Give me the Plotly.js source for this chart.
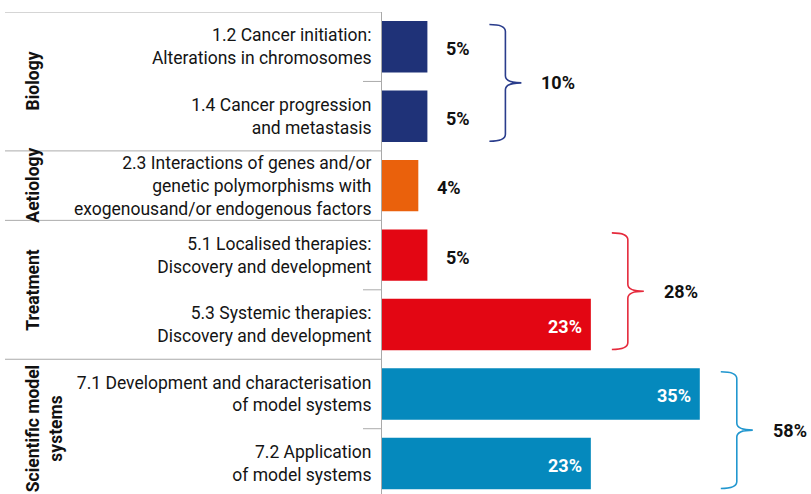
<!DOCTYPE html>
<html><head><meta charset="utf-8">
<script src="https://cdn.plot.ly/plotly-3.0.1.min.js"></script>
<style>html,body{margin:0;padding:0;background:#fff}#chart{width:811px;height:494px}</style>
</head><body><div id="chart"></div>
<script>
// ---- data ----
const groupNames = ['Biology', 'Aetiology', 'Treatment', 'Scientific model<br>systems'];
const groupTotals = ['10%', null, '28%', '58%'];
const itemGroup = [0, 0, 1, 2, 2, 3, 3];
const categories = [
  '1.2 Cancer initiation:<br>Alterations in chromosomes',
  '1.4 Cancer progression<br>and metastasis',
  '2.3 Interactions of genes and/or<br>genetic polymorphisms with<br>exogenousand/or endogenous factors',
  '5.1 Localised therapies:<br>Discovery and development',
  '5.3 Systemic therapies:<br>Discovery and development',
  '7.1 Development and characterisation<br>of model systems',
  '7.2 Application<br>of model systems'
];
const values = [5, 5, 4, 5, 23, 35, 23];
const valueLabels = ['5%', '5%', '4%', '5%', '23%', '35%', '23%'];

// ---- style ----
const groupColors = ['#1f3278', '#ea610c', '#e30613', '#0589bd'];
const braceColors = ['#2a3d8c', null, '#e52a3c', '#2297cf'];
const W = 811, H = 494, ML = 382, MT = 12;
const PX = 9.08;                 // pixels per value unit
const plotW = W - ML;
const xMax = plotW / PX;
const yBottom = 6.44;
const pitch = (H - MT) / (yBottom + 0.5);
const FONT = 'Roboto, "Open Sans", Arial, sans-serif';
const INSIDE_MIN = 15;

const pxX = p => p / PX;                 // px offset -> x units
const paperX = p => (p - ML) / plotW;    // absolute px -> paper x

const barColors = itemGroup.map(g => groupColors[g]);

const trace = {
  type: 'bar', orientation: 'h',
  y: categories, x: values,
  marker: {color: barColors, line: {width: 0}},
  hoverinfo: 'skip', showlegend: false
};

const annotations = [];
const shapes = [];

// value labels
values.forEach((v, i) => {
  const inside = v >= INSIDE_MIN;
  annotations.push({
    x: v, y: i, xref: 'x', yref: 'y',
    text: '<b>' + valueLabels[i] + '</b>', showarrow: false,
    xanchor: inside ? 'right' : 'left', xshift: inside ? -7 : 17, yshift: -2,
    font: {family: FONT, size: 18, color: inside ? '#ffffff' : '#111111'}
  });
});

// groups: labels, dividers, braces
groupNames.forEach((name, g) => {
  const idx = itemGroup.map((gg, i) => gg === g ? i : -1).filter(i => i >= 0);
  const first = idx[0], last = idx[idx.length - 1];
  const mid = (first + last) / 2;
  annotations.push({
    x: paperX(21), xref: 'paper', y: mid, yref: 'y',
    text: '<b>' + name + '</b>', textangle: -90, showarrow: false,
    xanchor: 'left', yanchor: 'middle',
    font: {family: FONT, size: 17.5, color: '#111111'}
  });
  // full divider at group top
  shapes.push({type: 'line', xref: 'paper', yref: 'y', x0: paperX(5), x1: 0,
    y0: first - 0.5, y1: first - 0.5, line: {color: '#ababab', width: 1}});
  // short ticks between items
  for (let i = first + 1; i <= last; i++) {
    shapes.push({type: 'line', xref: 'paper', yref: 'y', x0: paperX(363), x1: 0,
      y0: i - 0.5, y1: i - 0.5, line: {color: '#ababab', width: 1}});
  }
  if (groupTotals[g] && idx.length > 1) {
    let extent = 0;
    idx.forEach(i => {
      const e = values[i] * PX + (values[i] >= INSIDE_MIN ? 0 : 17 + valueLabels[i].length * 12);
      extent = Math.max(extent, e);
    });
    const x0 = pxX(extent + 21), arm = pxX(16), tip = pxX(16);
    const yT = first - 0.32, yB = last + 0.36, yM = (yT + yB) / 2;
    const r = 7 / pitch;
    const xa = x0 + arm, xt = xa + tip;
    const path = `M${x0},${yT} Q${xa},${yT} ${xa},${yT + r} L${xa},${yM - r} ` +
      `Q${xa},${yM} ${xt},${yM} Q${xa},${yM} ${xa},${yM + r} L${xa},${yB - r} ` +
      `Q${xa},${yB} ${x0},${yB}`;
    shapes.push({type: 'path', xref: 'x', yref: 'y', path: path,
      line: {color: braceColors[g], width: 1.6}});
    annotations.push({
      x: xt, y: yM, xref: 'x', yref: 'y', text: '<b>' + groupTotals[g] + '</b>',
      showarrow: false, xanchor: 'left', xshift: 18,
      font: {family: FONT, size: 18, color: '#111111'}
    });
  }
});

const layout = {
  width: W, height: H,
  margin: {l: ML, r: 0, t: MT, b: 0, pad: 0},
  paper_bgcolor: '#ffffff', plot_bgcolor: '#ffffff',
  bargap: 0.26,
  xaxis: {range: [0, xMax], visible: false, fixedrange: true},
  yaxis: {type: 'category', range: [yBottom, -0.5], showline: true, linecolor: '#a9a9a9',
    linewidth: 1, ticks: '', showgrid: false, zeroline: false, ticklabelstandoff: 6,
    tickfont: {family: FONT, size: 17.5, color: '#141414'}, fixedrange: true},
  shapes: shapes, annotations: annotations,
  font: {family: FONT}
};

Plotly.newPlot('chart', [trace], layout, {displayModeBar: false, staticPlot: true});
</script></body></html>
